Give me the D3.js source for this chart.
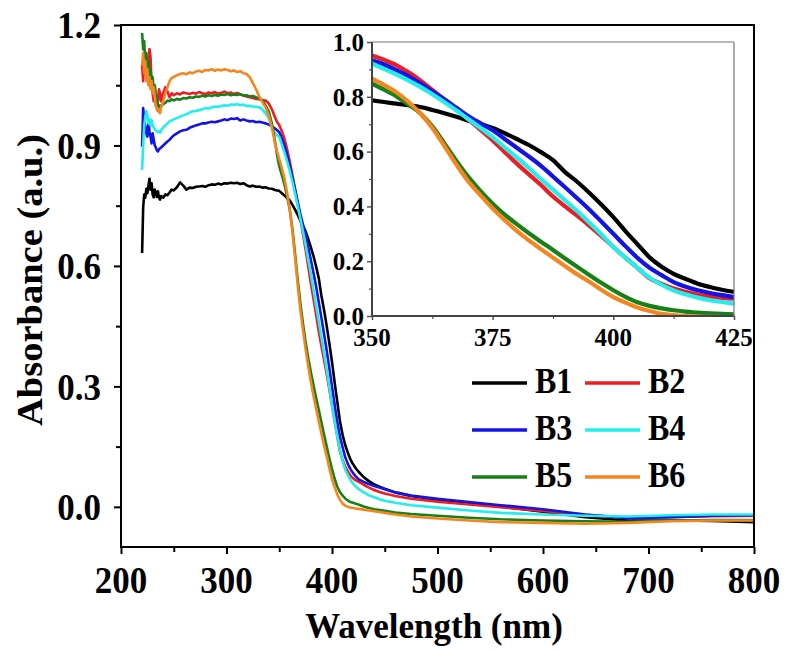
<!DOCTYPE html>
<html><head><meta charset="utf-8">
<script src="https://cdn.jsdelivr.net/npm/d3@7"></script>
<style>
body{margin:0;background:#fff}
text{font-family:"Liberation Serif","Times New Roman",serif;font-weight:bold;fill:#000}
</style>
</head><body><svg id="c" width="788" height="652"></svg>
<script>
// ---------- DATA ----------
const wavelengths = [220,221,222,223,224,225,226,227,228,229,
230,231,232,233,234,235,236,237,238,240,
242,244,246,248,250,253,256,259,262,265,
268,271,274,277,280,283,286,289,292,295,
298,301,304,307,310,313,316,319,322,325,
328,331,334,337,340,343,346,348,
350,352.5,355,357.5,360,362.5,365,367.5,370,372.5,
375,377.5,380,382.5,385,387.5,390,392.5,395,397.5,
400,402.5,405,407.5,410,412.5,415,417.5,420,422.5,425,
430,435,440,445,450,460,475,500,530,560,600,640,680,720,760,800];

const B1 = [0.632,0.745,0.778,0.770,0.792,0.781,0.800,0.817,0.790,0.806,
0.778,0.771,0.790,0.781,0.772,0.786,0.770,0.765,0.774,0.770,
0.778,0.776,0.783,0.790,0.788,0.796,0.808,0.800,0.790,0.795,
0.794,0.797,0.798,0.799,0.797,0.801,0.803,0.802,0.805,0.803,
0.806,0.805,0.807,0.806,0.807,0.804,0.806,0.801,0.798,0.800,
0.797,0.798,0.795,0.796,0.793,0.792,0.789,0.788,
0.787,0.781,0.775,0.769,0.763,0.752,0.740,0.727,0.713,0.700,
0.686,0.667,0.646,0.624,0.598,0.569,0.525,0.490,0.450,0.407,
0.361,0.310,0.262,0.214,0.180,0.154,0.135,0.118,0.106,0.096,0.088,
0.074,0.064,0.056,0.050,0.045,0.036,0.027,0.018,0.010,0.001,-0.012,-0.026,-0.034,-0.034,-0.035,-0.038];

const B2 = [1.10,1.06,1.12,1.08,1.10,1.07,1.11,1.14,1.12,1.05,
1.03,1.01,1.03,1.00,1.02,1.01,1.04,1.03,1.01,1.03,
1.045,1.035,1.020,1.030,1.025,1.030,1.027,1.032,1.030,1.028,
1.031,1.029,1.033,1.030,1.028,1.032,1.030,1.033,1.029,1.031,
1.034,1.030,1.032,1.028,1.031,1.027,1.025,1.022,1.020,1.018,
1.016,1.015,1.013,1.012,1.005,0.990,0.970,0.958,
0.951,0.935,0.916,0.890,0.860,0.825,0.790,0.754,0.717,0.679,
0.641,0.598,0.556,0.517,0.478,0.436,0.400,0.366,0.330,0.292,
0.252,0.213,0.176,0.138,0.117,0.100,0.088,0.078,0.071,0.066,0.063,
0.055,0.048,0.042,0.037,0.033,0.027,0.020,0.013,0.006,-0.001,-0.010,-0.020,-0.027,-0.026,-0.023,-0.022];

const B3 = [0.897,0.993,0.965,0.947,0.930,0.922,0.960,0.935,0.922,0.905,
0.930,0.915,0.900,0.895,0.888,0.885,0.890,0.893,0.895,0.900,
0.905,0.910,0.914,0.920,0.925,0.930,0.935,0.938,0.939,0.944,
0.947,0.950,0.952,0.955,0.955,0.957,0.959,0.958,0.960,0.962,
0.965,0.963,0.967,0.966,0.968,0.962,0.965,0.962,0.960,0.961,
0.958,0.959,0.957,0.955,0.952,0.948,0.942,0.938,
0.933,0.918,0.898,0.876,0.849,0.820,0.791,0.760,0.729,0.703,
0.678,0.646,0.614,0.582,0.548,0.509,0.470,0.430,0.389,0.345,
0.300,0.255,0.212,0.176,0.149,0.124,0.107,0.094,0.084,0.076,0.069,
0.062,0.057,0.052,0.048,0.044,0.036,0.028,0.020,0.012,0.004,-0.006,-0.019,-0.028,-0.026,-0.022,-0.021];

const B4 = [0.839,0.900,0.950,0.970,0.985,0.975,0.955,0.965,0.950,0.963,
0.950,0.945,0.940,0.937,0.935,0.933,0.936,0.932,0.938,0.945,
0.950,0.955,0.960,0.962,0.965,0.968,0.972,0.975,0.978,0.982,
0.985,0.986,0.988,0.990,0.993,0.992,0.995,0.997,0.996,0.998,
1.000,0.999,1.002,1.001,1.003,1.000,1.002,0.998,0.999,0.997,
0.996,0.995,0.990,0.980,0.968,0.945,0.930,0.925,
0.921,0.902,0.882,0.860,0.836,0.809,0.780,0.750,0.718,0.686,
0.653,0.615,0.579,0.540,0.500,0.461,0.422,0.383,0.341,0.298,
0.252,0.213,0.176,0.140,0.114,0.093,0.079,0.067,0.058,0.051,0.045,
0.036,0.029,0.024,0.019,0.015,0.010,0.004,-0.002,-0.009,-0.015,-0.019,-0.022,-0.024,-0.021,-0.019,-0.019];

const B5 = [1.180,1.140,1.160,1.100,1.130,1.090,1.110,1.070,1.090,1.060,
1.070,1.040,1.050,1.030,1.020,1.000,0.995,1.000,0.997,1.003,
1.006,1.012,1.010,1.015,1.012,1.016,1.014,1.018,1.017,1.020,
1.019,1.022,1.021,1.024,1.022,1.025,1.023,1.026,1.024,1.027,
1.026,1.028,1.025,1.027,1.026,1.028,1.024,1.025,1.022,1.023,
1.020,1.018,1.013,1.000,0.985,0.955,0.910,0.875,
0.848,0.826,0.802,0.772,0.740,0.692,0.630,0.566,0.507,0.456,
0.410,0.370,0.335,0.302,0.271,0.241,0.210,0.180,0.150,0.121,
0.094,0.070,0.050,0.037,0.028,0.021,0.016,0.012,0.010,0.008,0.006,
0.001,-0.003,-0.006,-0.008,-0.010,-0.014,-0.018,-0.022,-0.027,-0.031,-0.034,-0.036,-0.037,-0.034,-0.033,-0.033];

const B6 = [1.100,1.130,1.080,1.110,1.060,1.090,1.050,1.070,1.040,1.060,
1.030,1.045,1.020,1.000,0.990,0.985,0.990,0.980,0.995,1.010,
1.030,1.045,1.060,1.068,1.070,1.075,1.078,1.080,1.077,1.082,
1.080,1.084,1.086,1.083,1.088,1.087,1.090,1.086,1.089,1.087,
1.090,1.088,1.085,1.087,1.083,1.085,1.080,1.078,1.070,1.055,
1.040,1.022,1.008,0.995,0.975,0.945,0.905,0.885,
0.866,0.843,0.817,0.782,0.740,0.686,0.620,0.552,0.490,0.440,
0.392,0.350,0.311,0.276,0.244,0.213,0.182,0.152,0.125,0.096,
0.069,0.049,0.031,0.018,0.008,0.003,0.000,-0.002,-0.003,-0.004,-0.005,
-0.007,-0.009,-0.011,-0.013,-0.015,-0.019,-0.024,-0.029,-0.034,-0.038,-0.040,-0.042,-0.040,-0.036,-0.034,-0.034];

const seriesNames = ["B1","B2","B3","B4","B5","B6"];
const seriesValues = [B1,B2,B3,B4,B5,B6];
const seriesColors = ["#000000","#ee1c24","#1414e6","#22eeee","#178019","#f5861f"];

const mainXTicks = [200,300,400,500,600,700,800];
const mainYTicks = [0.0,0.3,0.6,0.9,1.2];
const insetXTicks = [350,375,400,425];
const insetYTicks = [0.0,0.2,0.4,0.6,0.8,1.0];
const xTitle = "Wavelength (nm)";
const yTitle = "Absorbance (a.u.)";

// ---------- DRAW ----------
const svg = d3.select("#c");
const series = seriesNames.map((n,i)=>({name:n,color:seriesColors[i],
  pts:wavelengths.map((w,j)=>[w,seriesValues[i][j]])}));

// main plot
const P = {l:121,r:754,t:25,b:547};
const x = d3.scaleLinear().domain([200,800]).range([P.l,P.r]);
const y = d3.scaleLinear().domain([-0.1,1.2]).range([P.b,P.t]);

svg.append("clipPath").attr("id","mclip").append("rect")
  .attr("x",P.l).attr("y",P.t).attr("width",P.r-P.l).attr("height",P.b-P.t);

const line = d3.line().x(d=>x(d[0])).y(d=>y(d[1]));
const gl = svg.append("g").attr("clip-path","url(#mclip)");
series.forEach(s=>{
  gl.append("path").attr("d",line(s.pts)).attr("fill","none")
    .attr("stroke",s.color).attr("stroke-width",2.6).attr("stroke-linejoin","round");
});

function styleAxis(g,w){g.select(".domain").remove();g.selectAll("line").attr("stroke","#000").attr("stroke-width",w);}
const gx = svg.append("g").attr("transform",`translate(0,${P.b})`)
  .call(d3.axisBottom(x).tickValues(mainXTicks).tickSize(7).tickFormat(""));
styleAxis(gx,2);
const gxm = svg.append("g").attr("transform",`translate(0,${P.b})`)
  .call(d3.axisBottom(x).tickValues(d3.range(250,800,100)).tickSize(5).tickFormat(""));
styleAxis(gxm,2);
const gy = svg.append("g").attr("transform",`translate(${P.l},0)`)
  .call(d3.axisLeft(y).tickValues(mainYTicks).tickSize(7).tickFormat(""));
styleAxis(gy,2);
const gym = svg.append("g").attr("transform",`translate(${P.l},0)`)
  .call(d3.axisLeft(y).tickValues([0.15,0.45,0.75,1.05]).tickSize(5).tickFormat(""));
styleAxis(gym,2);

svg.append("rect").attr("x",P.l).attr("y",P.t).attr("width",P.r-P.l).attr("height",P.b-P.t)
  .attr("fill","none").attr("stroke","#000").attr("stroke-width",2);

mainXTicks.forEach(v=>{
  svg.append("text").attr("transform",`translate(${x(v)},593) scale(1,1.1)`)
    .attr("text-anchor","middle").attr("font-size",35).text(v);
});
mainYTicks.forEach(v=>{
  svg.append("text").attr("transform",`translate(${P.l-20},${y(v)}) scale(1,1.1)`)
    .attr("text-anchor","end").attr("dy","0.35em").attr("font-size",35).text(d3.format(".1f")(v));
});
svg.append("text").attr("transform",`translate(434,638) scale(1,1.05)`)
  .attr("text-anchor","middle").attr("font-size",35).text(xTitle);
svg.append("text").attr("transform",`translate(42,280) rotate(-90) scale(1.1,1)`)
  .attr("text-anchor","middle").attr("font-size",35).text(yTitle);

// legend
const LG = {x0:[472,585], y0:383, dy:47, len:55, gap:8};
series.forEach((s,i)=>{
  const cx = LG.x0[i%2], cy = LG.y0 + Math.floor(i/2)*LG.dy;
  svg.append("line").attr("x1",cx).attr("x2",cx+LG.len).attr("y1",cy).attr("y2",cy)
    .attr("stroke",s.color).attr("stroke-width",3.5);
  svg.append("text").attr("transform",`translate(${cx+LG.len+LG.gap},${cy+10}) scale(1,1.1)`)
    .attr("font-size",32).text(s.name);
});

// inset
const I = {l:372,r:734,t:42,b:316};
const xi = d3.scaleLinear().domain([350,425]).range([I.l,I.r]);
const yi = d3.scaleLinear().domain([0,1]).range([I.b,I.t]);
svg.append("rect").attr("x",I.l).attr("y",I.t).attr("width",I.r-I.l).attr("height",I.b-I.t).attr("fill","#fff");
svg.append("clipPath").attr("id","iclip").append("rect")
  .attr("x",I.l).attr("y",I.t-2).attr("width",I.r-I.l).attr("height",I.b-I.t+1);
const linei = d3.line().x(d=>xi(d[0])).y(d=>yi(d[1])).curve(d3.curveMonotoneX);
const gi = svg.append("g").attr("clip-path","url(#iclip)");
series.forEach(s=>{
  gi.append("path").attr("d",linei(s.pts.filter(p=>p[0]>=350&&p[0]<=425))).attr("fill","none")
    .attr("stroke",s.color).attr("stroke-width",4.2).attr("stroke-linejoin","round");
});
function styleI(g,w){g.select(".domain").remove();g.selectAll("line").attr("stroke","#555").attr("stroke-width",w);}
styleI(svg.append("g").attr("transform",`translate(0,${I.b})`)
  .call(d3.axisBottom(xi).tickValues(insetXTicks).tickSize(4).tickFormat("")),1.5);
styleI(svg.append("g").attr("transform",`translate(0,${I.b})`)
  .call(d3.axisBottom(xi).tickValues([362.5,387.5,412.5]).tickSize(3).tickFormat("")),1.2);
styleI(svg.append("g").attr("transform",`translate(${I.l},0)`)
  .call(d3.axisLeft(yi).tickValues(insetYTicks).tickSize(5).tickFormat("")),1.5);
styleI(svg.append("g").attr("transform",`translate(${I.l},0)`)
  .call(d3.axisLeft(yi).tickValues([0.1,0.3,0.5,0.7,0.9]).tickSize(3).tickFormat("")),1.2);
svg.append("line").attr("x1",I.l).attr("x2",I.r).attr("y1",I.b).attr("y2",I.b).attr("stroke","#444").attr("stroke-width",2);
svg.append("line").attr("x1",I.l).attr("x2",I.l).attr("y1",I.t).attr("y2",I.b).attr("stroke","#444").attr("stroke-width",2);
svg.append("line").attr("x1",I.l).attr("x2",I.r).attr("y1",I.t).attr("y2",I.t).attr("stroke","#777").attr("stroke-width",1.2);
svg.append("line").attr("x1",I.r).attr("x2",I.r).attr("y1",I.t).attr("y2",I.b).attr("stroke","#777").attr("stroke-width",1.2);
insetXTicks.forEach(v=>{
  svg.append("text").attr("x",xi(v)).attr("y",346).attr("text-anchor","middle").attr("font-size",25).text(v);
});
insetYTicks.forEach(v=>{
  svg.append("text").attr("x",I.l-8).attr("y",yi(v)).attr("dy","0.35em").attr("text-anchor","end")
    .attr("font-size",25).text(d3.format(".1f")(v));
});
</script></body></html>
